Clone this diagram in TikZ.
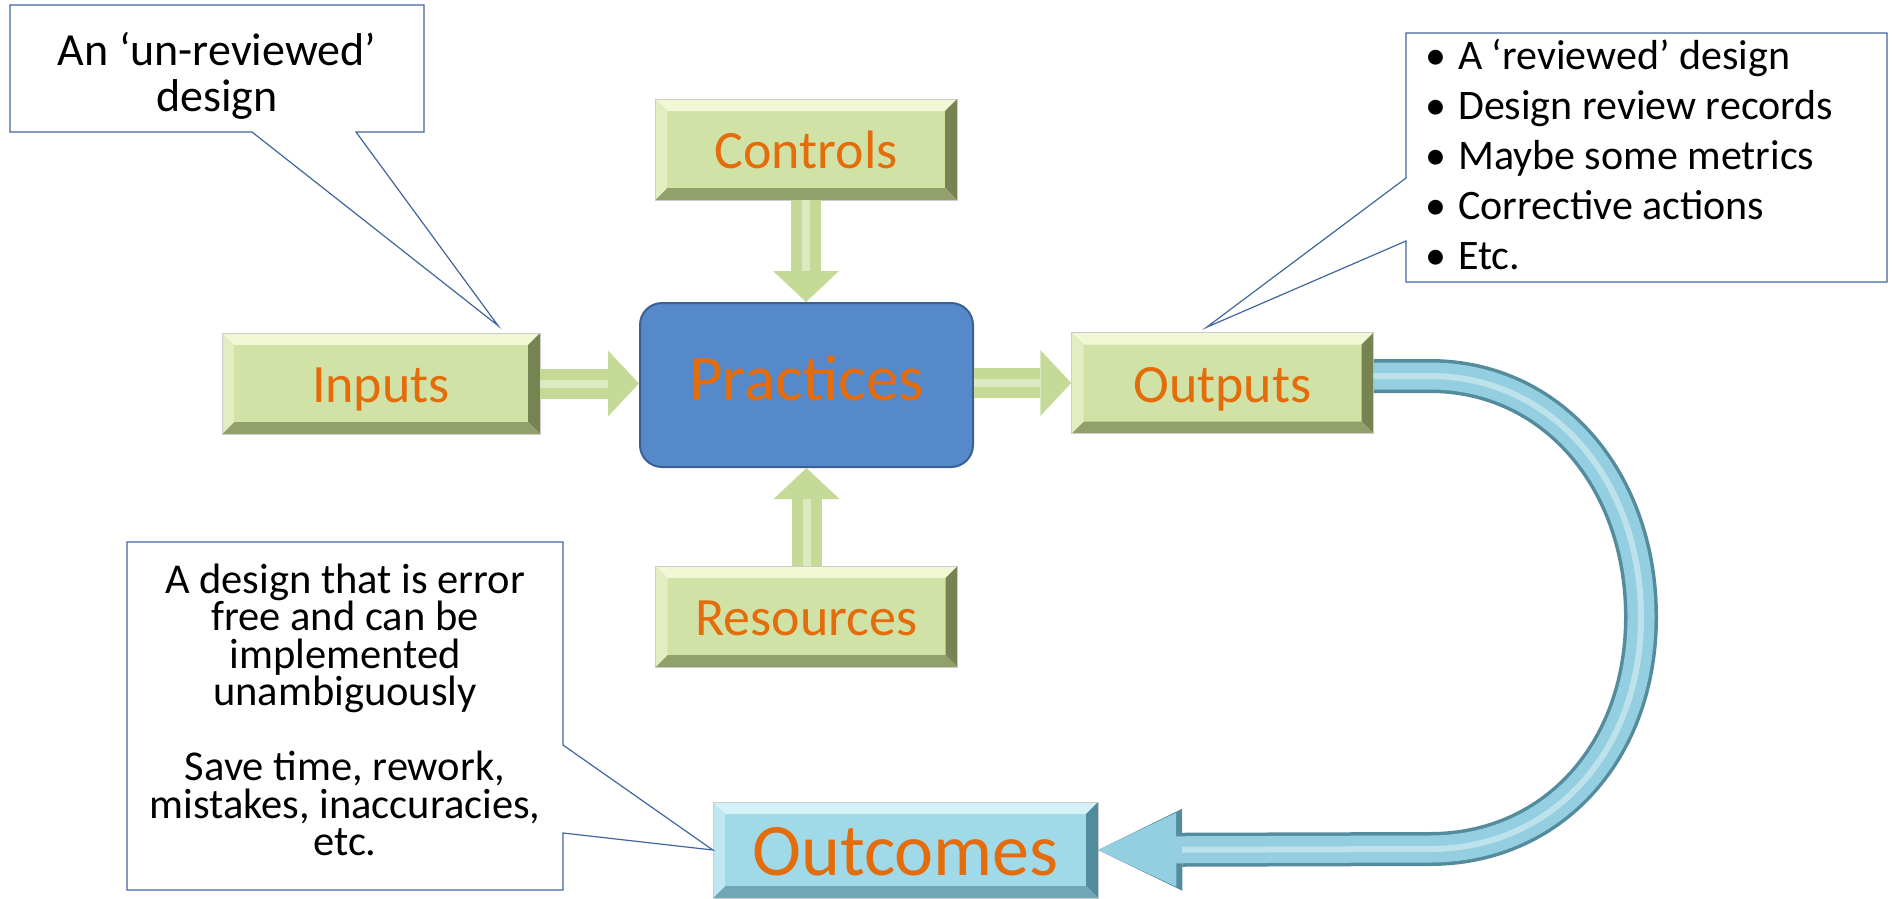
\documentclass[tikz,border=0pt]{standalone}
\usepackage{fontspec}
\setmainfont{Carlito}
\usetikzlibrary{arrows.meta,calc}
\definecolor{gface}{RGB}{209,226,166}
\definecolor{gtop}{RGB}{242,248,214}
\definecolor{gleft}{RGB}{226,237,194}
\definecolor{gright}{RGB}{118,132,82}
\definecolor{gbottom}{RGB}{146,160,108}
\definecolor{agreen}{RGB}{198,218,152}
\definecolor{otext}{RGB}{228,108,10}
\definecolor{prblue}{RGB}{85,137,201}
\definecolor{predge}{RGB}{58,96,146}
\definecolor{bface}{RGB}{160,217,232}
\definecolor{btop}{RGB}{212,241,248}
\definecolor{bleft}{RGB}{190,231,242}
\definecolor{bright}{RGB}{80,140,156}
\definecolor{bbottom}{RGB}{112,166,181}
\definecolor{tubelight}{RGB}{147,207,224}
\definecolor{tubedark}{RGB}{84,140,158}
\definecolor{noteline}{RGB}{65,102,156}

\begin{document}
\begin{tikzpicture}[
  x=1pt, y=-1pt,
  bevel/.style n args={4}{path picture={
    \coordinate (b1) at (path picture bounding box.north west);
    \coordinate (b2) at (path picture bounding box.north east);
    \coordinate (b3) at (path picture bounding box.south east);
    \coordinate (b4) at (path picture bounding box.south west);
    \fill[#1] (b1) -- (b2) -- ([shift={(-12,12)}]b2) -- ([shift={(12,12)}]b1) -- cycle;
    \fill[#2] (b2) -- (b3) -- ([shift={(-12,-12)}]b3) -- ([shift={(-12,12)}]b2) -- cycle;
    \fill[#3] (b3) -- (b4) -- ([shift={(12,-12)}]b4) -- ([shift={(-12,-12)}]b3) -- cycle;
    \fill[#4] (b4) -- (b1) -- ([shift={(12,12)}]b1) -- ([shift={(12,-12)}]b4) -- cycle;
  }},
  gbox/.style={draw=black!20, fill=gface, bevel={gtop}{gright}{gbottom}{gleft}, minimum width=302pt, minimum height=101pt, inner sep=0pt, text=otext, font=\fontsize{54}{60}\selectfont, text height=38pt, text depth=0pt},
  prbox/.style={draw=predge, line width=2pt, fill=prblue, rounded corners=22pt, minimum width=333pt, minimum height=164pt, inner sep=0pt, text=otext, font=\fontsize{65}{70}\selectfont, text height=30pt, text depth=0pt},
  obox/.style={draw=black!20, fill=bface, bevel={btop}{bright}{bbottom}{bleft}, minimum width=385pt, minimum height=96pt, inner sep=0pt, text=otext, font=\fontsize{74}{80}\selectfont, text height=50pt, text depth=0pt},
  note/.style={inner sep=0pt, text=black},
  call/.style={draw=noteline, fill=white, line width=1.2pt, line join=miter},
  garrow/.style={draw=agreen, line width=30pt, -{Triangle[width=66pt,length=31pt,line width=0pt]},
    postaction={draw=white!40!agreen, line width=8pt, -, shorten >=31pt}},
  tube/.style={draw=tubelight, line width=27pt, -{Triangle[width=74pt,length=78pt,line width=0pt]},
    preaction={draw=tubedark, line width=34pt, -{Triangle[width=82pt,length=84pt,line width=0pt]}},
    postaction={draw=white!40!tubelight, line width=6pt, -, shorten >=84pt}}
]
\useasboundingbox (0,0) rectangle (1892,899);

\node[gbox, minimum width=318pt] (in) at (381,383.5) {Inputs};
\node[prbox] (pr) at (806.5,385) {Practices};
\node[gbox] (out) at (1222.5,383) {Outputs};
\node[gbox] (ctl) at (806,149.5) {Controls};
\node[gbox] (res) at (806.5,616.5) {Resources};
\node[obox] (oc) at (905.5,850) {Outcomes};

\draw[garrow] (in.east) -- (in.east -| pr.west);
\draw[garrow] (pr.east |- out.west) -- (out.west);
\draw[garrow] (ctl.south) -- (ctl.south |- pr.north);
\draw[garrow] (res.north) -- (res.north |- pr.south);

\draw[tube] ([yshift=7pt]out.east) -- (1430,376) .. controls (1552,376) and (1641,480) .. (1641,617)
  .. controls (1641,752) and (1552,849) .. (1430,849) -- (oc.east);

% callouts
\draw[call] (10,5) -- (424,5) -- (424,132) -- (356,132) -- ([shift={(-42,-7)}]in.north east) -- (252,132) -- (10,132) -- cycle;
\node[note, align=center, font=\fontsize{46}{46}\selectfont] (unrev) at (217,76) {An ‘un-reviewed’\\design};

\draw[call] (1406,33) -- (1887,33) -- (1887,282) -- (1406,282) -- (1406,241) -- ([shift={(-16,-5)}]out.north) -- (1406,178) -- cycle;
\node[note, align=left, anchor=west, font=\fontsize{42}{50}\selectfont] (rev) at (1425,155) {%
  \makebox[33pt][l]{\textbullet}A ‘reviewed’ design\\
  \makebox[33pt][l]{\textbullet}Design review records\\
  \makebox[33pt][l]{\textbullet}Maybe some metrics\\
  \makebox[33pt][l]{\textbullet}Corrective actions\\
  \makebox[33pt][l]{\textbullet}Etc.};

\draw[call] (127,542) -- (563,542) -- (563,745) -- (oc.west) -- (563,833) -- (563,890) -- (127,890) -- cycle;
\node[note, align=center, font={\fontsize{42.5}{37.5}\selectfont\lineskiplimit=-50pt\relax}] (goal) at (345,710) {A design that is error\\free and can be\\implemented\\unambiguously\\~\\Save time, rework,\\mistakes, inaccuracies,\\etc.};
\end{tikzpicture}
\end{document}
